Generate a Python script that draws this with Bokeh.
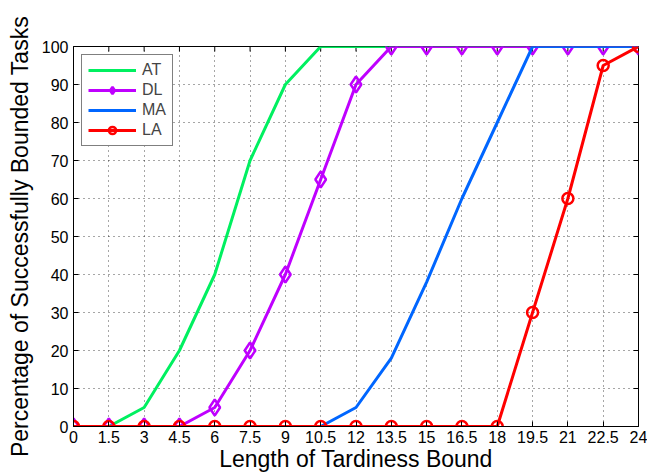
import math
from bokeh.plotting import figure
from bokeh.models import (FixedTicker, Legend, LegendItem, Range1d)
from bokeh.embed import file_html
from bokeh.resources import INLINE

# ---- data ----
x_vals = [0, 1.5, 3, 4.5, 6, 7.5, 9, 10.5, 12, 13.5, 15, 16.5, 18, 19.5, 21, 22.5, 24]
x_tick_labels = ["0", "1.5", "3", "4.5", "6", "7.5", "9", "10.5", "12", "13.5",
                 "15", "16.5", "18", "19.5", "21", "22.5", "24"]
y_ticks = [0, 10, 20, 30, 40, 50, 60, 70, 80, 90, 100]

at_vals = [0, 0, 5, 20, 40, 70, 90, 100, 100, 100, 100, 100, 100, 100, 100, 100, 100]
dl_vals = [0, 0, 0, 0, 5, 20, 40, 65, 90, 100, 100, 100, 100, 100, 100, 100, 100]
ma_vals = [0, 0, 0, 0, 0, 0, 0, 0, 5, 18, 38, 60, 80, 100, 100, 100, 100]
la_vals = [0, 0, 0, 0, 0, 0, 0, 0, 0, 0, 0, 0, 0, 30, 60, 95, 100]

series_names = ["AT", "DL", "MA", "LA"]
series_colors = ["#00F060", "#BF00FF", "#0066FF", "#FF0000"]

FONT = "Liberation Sans"

p = figure(width=647, height=474, output_backend="svg", toolbar_location=None,
           x_range=Range1d(x_vals[0], x_vals[-1]), y_range=Range1d(y_ticks[0], y_ticks[-1]),
           min_border_left=73, min_border_top=46, min_border_right=9,
           min_border_bottom=44)
p.background_fill_color = "white"
p.outline_line_color = "black"
p.outline_line_width = 1

# axes
p.xaxis.ticker = FixedTicker(ticks=x_vals)
p.xaxis.major_label_overrides = {v: s for v, s in zip(x_vals, x_tick_labels)}
p.yaxis.ticker = FixedTicker(ticks=y_ticks)
for ax in (p.xaxis[0], p.yaxis[0]):
    ax.major_tick_in = 5
    ax.major_tick_out = 0
    ax.minor_tick_line_color = None
    ax.axis_line_color = "black"
    ax.major_tick_line_color = "black"
    ax.major_label_text_font = FONT
    ax.major_label_text_font_size = "16px"
    ax.major_label_text_color = "black"
    ax.axis_label_text_font = FONT
    ax.axis_label_text_font_size = "23px"
    ax.axis_label_text_font_style = "normal"
    ax.axis_label_text_color = "black"
p.xaxis.axis_label = "Length of Tardiness Bound"
p.yaxis.axis_label = "Percentage of Successfully Bounded Tasks"
p.xaxis.major_label_standoff = 4
p.xaxis.axis_label_standoff = 0
p.yaxis.major_label_standoff = 5
p.yaxis.axis_label_standoff = 6

# grid
for g in (p.xgrid[0], p.ygrid[0]):
    g.grid_line_color = "black"
    g.grid_line_alpha = 0.7
    g.grid_line_dash = "1 4"
    g.grid_line_width = 1
p.xgrid.ticker = FixedTicker(ticks=x_vals)
p.ygrid.ticker = FixedTicker(ticks=y_ticks)

# mirror ticks on top and right (clipped to the frame, so only the inner half shows)
p.scatter(x_vals, [y_ticks[-1]] * len(x_vals), marker="dash", angle=math.pi / 2,
          size=10, line_color="black", line_width=1)
p.scatter([x_vals[-1]] * len(y_ticks), y_ticks, marker="dash",
          size=10, line_color="black", line_width=1)

# series
lw = 3
r_at = p.line(x_vals, at_vals, line_color=series_colors[0], line_width=lw)
r_dl = p.line(x_vals, dl_vals, line_color=series_colors[1], line_width=lw)
r_dl_m = p.scatter(x_vals, dl_vals, marker="diamond", size=16, line_color=series_colors[1],
                   fill_color=None, line_width=2.5)
r_ma = p.line(x_vals, ma_vals, line_color=series_colors[2], line_width=lw)
r_la = p.line(x_vals, la_vals, line_color=series_colors[3], line_width=lw)
r_la_m = p.scatter(x_vals, la_vals, marker="circle", size=11, line_color=series_colors[3],
                   fill_color=None, line_width=2.5)

legend = Legend(items=[
    LegendItem(label=series_names[0], renderers=[r_at]),
    LegendItem(label=series_names[1], renderers=[r_dl, r_dl_m]),
    LegendItem(label=series_names[2], renderers=[r_ma]),
    LegendItem(label=series_names[3], renderers=[r_la, r_la_m]),
], location="top_left")
legend.margin = 8
legend.padding = 6
legend.spacing = 2
legend.glyph_width = 48
legend.glyph_height = 18
legend.label_text_font = FONT
legend.label_text_font_size = "16px"
legend.label_standoff = 6
legend.border_line_color = "black"
legend.border_line_width = 1
legend.background_fill_alpha = 1
p.add_layout(legend, "center")

open("out.html", "w").write(file_html(p, INLINE))
